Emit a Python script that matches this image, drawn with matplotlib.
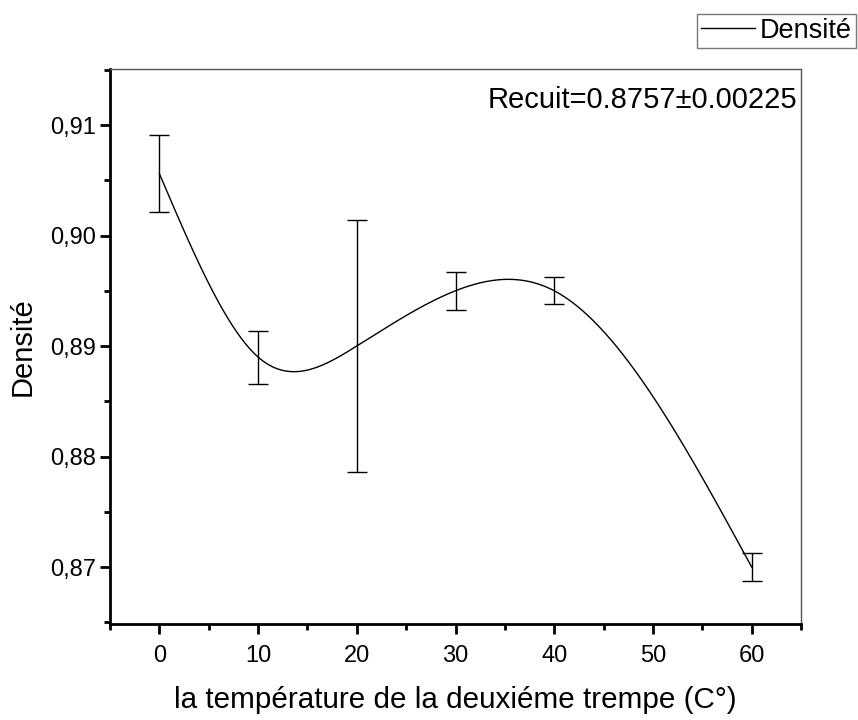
import numpy as np
import matplotlib.pyplot as plt
from matplotlib.ticker import MultipleLocator, FuncFormatter

plt.rcParams['font.family'] = ['Liberation Sans', 'DejaVu Sans']

temperature = [0, 10, 20, 30, 40, 60]
densite = [0.9056, 0.8890, 0.8900, 0.8950, 0.8950, 0.8700]
erreur = [0.0035, 0.0024, 0.0114, 0.0017, 0.0012, 0.0013]
recuit = "Recuit=0.8757±0.00225"


def natural_spline(x, y, xs):
    # natural cubic spline through the measured points
    x = np.asarray(x, float)
    y = np.asarray(y, float)
    n = len(x)
    h = np.diff(x)
    A = np.zeros((n, n))
    b = np.zeros(n)
    A[0, 0] = A[-1, -1] = 1
    for i in range(1, n - 1):
        A[i, i - 1] = h[i - 1]
        A[i, i] = 2 * (h[i - 1] + h[i])
        A[i, i + 1] = h[i]
        b[i] = 3 * ((y[i + 1] - y[i]) / h[i] - (y[i] - y[i - 1]) / h[i - 1])
    c = np.linalg.solve(A, b)
    out = np.empty_like(xs)
    for k, t in enumerate(xs):
        i = min(max(np.searchsorted(x, t) - 1, 0), n - 2)
        dx = t - x[i]
        bi = (y[i + 1] - y[i]) / h[i] - h[i] * (2 * c[i] + c[i + 1]) / 3
        di = (c[i + 1] - c[i]) / (3 * h[i])
        out[k] = y[i] + bi * dx + c[i] * dx ** 2 + di * dx ** 3
    return out


fig = plt.figure(figsize=(8.58, 7.2), dpi=100)
ax = fig.add_axes([0.1282, 0.1333, 0.8054, 0.7709])

xs = np.linspace(temperature[0], temperature[-1], 400)
line, = ax.plot(xs, natural_spline(temperature, densite, xs), color='black', lw=1.0, label='Densité')
ax.errorbar(temperature, densite, yerr=erreur, fmt='none', ecolor='black',
            elinewidth=1.0, capsize=7, capthick=1.0)

ax.set_xlim(-5, 65)
ax.set_ylim(0.86484, 0.91507)
ax.xaxis.set_major_locator(MultipleLocator(10))
ax.xaxis.set_minor_locator(MultipleLocator(5))
ax.yaxis.set_major_locator(MultipleLocator(0.01))
ax.yaxis.set_minor_locator(MultipleLocator(0.005))
ax.yaxis.set_major_formatter(FuncFormatter(lambda v, p: f"{v:.2f}".replace('.', ',')))

for s in ['left', 'bottom']:
    ax.spines[s].set_linewidth(2.0)
for s in ['top', 'right']:
    ax.spines[s].set_linewidth(1.0)
    ax.spines[s].set_color('#555555')

ax.tick_params(which='major', direction='out', length=7, width=2, labelsize=17)
ax.tick_params(which='minor', direction='out', length=4, width=2)
ax.tick_params(axis='x', which='major', pad=8)
ax.tick_params(axis='y', which='major', pad=3)

ax.set_xlabel('la température de la deuxiéme trempe (C°)', fontsize=21.3, labelpad=14)
ax.set_ylabel('Densité', fontsize=21, labelpad=10)

ax.text(0.994, 0.97, recuit, transform=ax.transAxes, ha='right', va='top', fontsize=21)

leg = fig.legend(handles=[line], loc='upper right', bbox_to_anchor=(0.998, 0.981),
                 fontsize=19.5, frameon=True, fancybox=False, borderpad=0.15,
                 handlelength=2.0, handletextpad=0.2, borderaxespad=0)
leg.get_frame().set_edgecolor('#555555')
leg.get_frame().set_linewidth(1.0)

fig.savefig('out.png', dpi=100)
